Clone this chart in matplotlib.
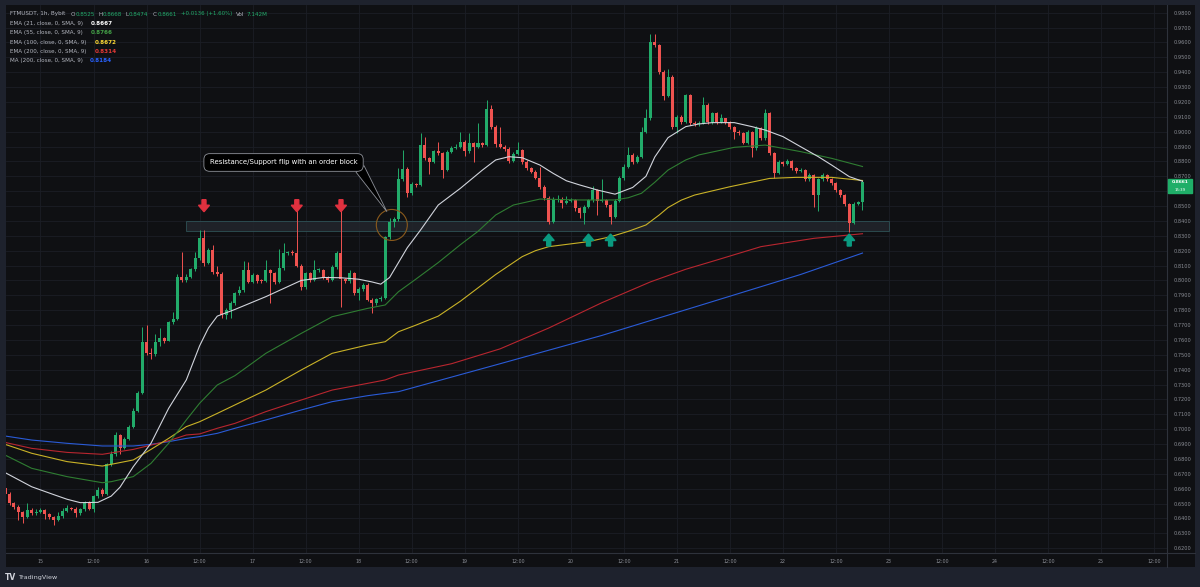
import matplotlib
matplotlib.use('Agg')
import matplotlib.pyplot as plt
from matplotlib.patches import Rectangle, Ellipse, Polygon
from matplotlib.lines import Line2D

## FTMUSDT 1h candles, hour 0 = 15th 00:00
first_hour = -8
first_open = 0.6602
closes = [0.6564, 0.6503, 0.6475, 0.6440, 0.6410, 0.6457, 0.6434, 0.6445,
          0.6457, 0.6429, 0.6407, 0.6389, 0.6416, 0.6450, 0.6472, 0.6466, 0.6434, 0.6460,
          0.6508, 0.6466, 0.6549, 0.6594, 0.6564, 0.6764, 0.6831, 0.6961, 0.6876, 0.6934,
          0.7017, 0.7125, 0.7241, 0.7588, 0.7514, 0.7506, 0.7588, 0.7611, 0.7595, 0.7718,
          0.7741, 0.8025, 0.8000, 0.8025, 0.8075, 0.8148, 0.8283, 0.8119, 0.8205, 0.8059,
          0.8045, 0.7768, 0.7801, 0.7846, 0.7913, 0.7936, 0.8070, 0.7992, 0.8037, 0.7999,
          0.7996, 0.8070, 0.8048, 0.7992, 0.8081, 0.8182, 0.8190, 0.8186, 0.8097, 0.7958,
          0.8048, 0.8003, 0.8070, 0.8072, 0.8021, 0.8003, 0.8092, 0.8182, 0.8008, 0.7995,
          0.8048, 0.7913, 0.7940, 0.7969, 0.7870, 0.7846, 0.7872, 0.7884, 0.8294, 0.8395,
          0.8412, 0.8682, 0.8749, 0.8586, 0.8647, 0.8642, 0.8911, 0.8825, 0.8798, 0.8870,
          0.8854, 0.8743, 0.8866, 0.8893, 0.8900, 0.8933, 0.8870, 0.8922, 0.8900, 0.8922,
          0.8911, 0.9150, 0.9034, 0.8915, 0.8900, 0.8884, 0.8803, 0.8852, 0.8877, 0.8798,
          0.8758, 0.8731, 0.8691, 0.8630, 0.8556, 0.8395, 0.8541, 0.8545, 0.8523, 0.8534,
          0.8543, 0.8485, 0.8451, 0.8496, 0.8541, 0.8608, 0.8534, 0.8541, 0.8507, 0.8429,
          0.8534, 0.8686, 0.8765, 0.8843, 0.8798, 0.8832, 0.9000, 0.9090, 0.9605, 0.9583,
          0.9404, 0.9240, 0.9370, 0.9034, 0.9101, 0.9067, 0.9247, 0.9056, 0.9050, 0.9060,
          0.9180, 0.9067, 0.9124, 0.9067, 0.9090, 0.9067, 0.9034, 0.9000, 0.8989, 0.8926,
          0.9000, 0.8888, 0.9023, 0.8955, 0.9124, 0.8859, 0.8725, 0.8798, 0.8783, 0.8805,
          0.8754, 0.8738, 0.8745, 0.8680, 0.8709, 0.8574, 0.8680, 0.8709, 0.8680, 0.8653,
          0.8608, 0.8574, 0.8514, 0.8388, 0.8514, 0.8525, 0.8661]
highs = [0.6615, 0.6580, 0.6512, 0.6490, 0.6452, 0.6505, 0.6470, 0.6462,
         0.6470, 0.6466, 0.6438, 0.6415, 0.6440, 0.6470, 0.6490, 0.6480, 0.6475, 0.6470,
         0.6515, 0.6520, 0.6560, 0.6612, 0.6605, 0.6770, 0.6855, 0.6982, 0.6970, 0.6945,
         0.7025, 0.7140, 0.7255, 0.7686, 0.7700, 0.7545, 0.7640, 0.7680, 0.7620, 0.7730,
         0.7790, 0.8040, 0.8193, 0.8040, 0.8085, 0.8190, 0.8339, 0.8339, 0.8215, 0.8235,
         0.8095, 0.8055, 0.7815, 0.7860, 0.7925, 0.7960, 0.8133, 0.8122, 0.8050, 0.8045,
         0.8010, 0.8140, 0.8080, 0.8060, 0.8212, 0.8250, 0.8200, 0.8205, 0.8474, 0.8110,
         0.8060, 0.8055, 0.8140, 0.8085, 0.8080, 0.8030, 0.8105, 0.8195, 0.8474, 0.8015,
         0.8070, 0.8060, 0.7955, 0.7980, 0.7985, 0.7880, 0.7885, 0.7895, 0.8300, 0.8420,
         0.8425, 0.8754, 0.8877, 0.8760, 0.8660, 0.8655, 0.8992, 0.8966, 0.8830, 0.8880,
         0.8932, 0.8865, 0.8875, 0.8905, 0.8915, 0.9000, 0.8945, 0.8990, 0.8930, 0.9060,
         0.8930, 0.9210, 0.9180, 0.9045, 0.9030, 0.8910, 0.8895, 0.8865, 0.8930, 0.8885,
         0.8810, 0.8765, 0.8740, 0.8760, 0.8640, 0.8565, 0.8560, 0.8575, 0.8560, 0.8570,
         0.8555, 0.8550, 0.8495, 0.8505, 0.8550, 0.8632, 0.8615, 0.8680, 0.8550, 0.8515,
         0.8545, 0.8700, 0.8780, 0.8900, 0.8855, 0.8845, 0.9030, 0.9150, 0.9657, 0.9660,
         0.9590, 0.9415, 0.9420, 0.9380, 0.9115, 0.9110, 0.9255, 0.9255, 0.9070, 0.9070,
         0.9230, 0.9195, 0.9135, 0.9130, 0.9120, 0.9095, 0.9075, 0.9040, 0.9010, 0.8995,
         0.9010, 0.9005, 0.9035, 0.9030, 0.9150, 0.9130, 0.8865, 0.8810, 0.8805, 0.8815,
         0.8810, 0.8765, 0.8755, 0.8750, 0.8720, 0.8715, 0.8690, 0.8720, 0.8715, 0.8690,
         0.8660, 0.8615, 0.8580, 0.8520, 0.8525, 0.8535, 0.8668]
lows = [0.6550, 0.6490, 0.6462, 0.6389, 0.6372, 0.6400, 0.6420, 0.6425,
        0.6436, 0.6394, 0.6395, 0.6356, 0.6380, 0.6405, 0.6442, 0.6455, 0.6410, 0.6425,
        0.6450, 0.6455, 0.6440, 0.6540, 0.6552, 0.6555, 0.6755, 0.6820, 0.6830, 0.6870,
        0.6925, 0.7010, 0.7115, 0.7235, 0.7500, 0.7470, 0.7495, 0.7560, 0.7580, 0.7590,
        0.7710, 0.7735, 0.7990, 0.7992, 0.8015, 0.8065, 0.8140, 0.8100, 0.8110, 0.8040,
        0.8030, 0.7750, 0.7740, 0.7750, 0.7835, 0.7900, 0.7925, 0.7980, 0.7985, 0.7985,
        0.7980, 0.7990, 0.7850, 0.7975, 0.7985, 0.8070, 0.8170, 0.8170, 0.8090, 0.7936,
        0.7945, 0.7990, 0.7995, 0.8055, 0.8010, 0.7990, 0.7995, 0.8080, 0.7824, 0.7985,
        0.7985, 0.7900, 0.7869, 0.7930, 0.7860, 0.7783, 0.7835, 0.7862, 0.7878, 0.8280,
        0.8360, 0.8400, 0.8670, 0.8560, 0.8575, 0.8630, 0.8635, 0.8810, 0.8713, 0.8790,
        0.8840, 0.8686, 0.8735, 0.8855, 0.8885, 0.8890, 0.8838, 0.8860, 0.8798, 0.8890,
        0.8900, 0.8905, 0.9020, 0.8900, 0.8890, 0.8870, 0.8790, 0.8795, 0.8845, 0.8785,
        0.8745, 0.8720, 0.8680, 0.8615, 0.8540, 0.8380, 0.8388, 0.8530, 0.8490, 0.8515,
        0.8525, 0.8470, 0.8420, 0.8380, 0.8485, 0.8530, 0.8440, 0.8525, 0.8495, 0.8380,
        0.8420, 0.8525, 0.8675, 0.8755, 0.8785, 0.8790, 0.8825, 0.8990, 0.9080, 0.9570,
        0.9390, 0.9210, 0.9230, 0.9020, 0.8990, 0.9050, 0.9060, 0.9045, 0.9040, 0.9040,
        0.9050, 0.9055, 0.9055, 0.9055, 0.9060, 0.9055, 0.9020, 0.8950, 0.8975, 0.8915,
        0.8915, 0.8832, 0.8880, 0.8945, 0.8945, 0.8845, 0.8690, 0.8715, 0.8770, 0.8775,
        0.8745, 0.8725, 0.8730, 0.8670, 0.8670, 0.8496, 0.8469, 0.8670, 0.8670, 0.8640,
        0.8595, 0.8560, 0.8500, 0.8325, 0.8380, 0.8505, 0.8474]
opens = [first_open] + closes[:-1]
hours = list(range(first_hour, first_hour + len(closes)))

## moving averages (hour, value)
ema21_t = [-8, -2, 3, 6, 9, 13, 16, 18, 21, 25, 29, 33, 36, 38, 40, 44, 51, 59, 64, 68, 72, 75, 77, 79,
           81, 83, 86, 90, 95, 100, 103, 106, 109, 113, 116, 119, 122, 126, 130, 134, 137, 139, 142,
           146, 149, 152, 157, 161, 164, 168, 172, 176, 179, 183, 186]
ema21_v = [0.6708, 0.6613, 0.6560, 0.6529, 0.6506, 0.6508, 0.6550, 0.6610, 0.6748, 0.6905, 0.7140,
           0.7331, 0.7560, 0.7680, 0.7760, 0.7805, 0.7891, 0.8000, 0.8020, 0.8018, 0.8008, 0.7990,
           0.7975, 0.8020, 0.8120, 0.8220, 0.8339, 0.8507, 0.8619, 0.8742, 0.8810, 0.8832, 0.8825,
           0.8776, 0.8720, 0.8670, 0.8642, 0.8608, 0.8580, 0.8625, 0.8700, 0.8830, 0.8960, 0.9034,
           0.9052, 0.9061, 0.9061, 0.9034, 0.9011, 0.8967, 0.8899, 0.8832, 0.8776, 0.8698, 0.8667]
ema55_t = [-8, -2, 6, 14, 16, 21, 25, 29, 33, 36, 40, 44, 51, 59, 66, 74, 78, 81, 85, 90, 95, 99, 103,
           107, 113, 122, 130, 133, 136, 139, 142, 146, 149, 157, 164, 172, 179, 186]
ema55_v = [0.6826, 0.6737, 0.6681, 0.6640, 0.6647, 0.6681, 0.6770, 0.6905, 0.7062, 0.7174, 0.7297,
           0.7360, 0.7510, 0.7644, 0.7756, 0.7812, 0.7835, 0.7924, 0.8010, 0.8120, 0.8240, 0.8330,
           0.8440, 0.8507, 0.8547, 0.8541, 0.8541, 0.8556, 0.8586, 0.8660, 0.8742, 0.8810, 0.8844,
           0.8895, 0.8910, 0.8866, 0.8821, 0.8766]
ema100_t = [-8, -2, 6, 14, 21, 25, 29, 33, 36, 40, 44, 51, 59, 66, 74, 78, 81, 85, 90, 95, 99, 103, 106,
            109, 112, 115, 124, 129, 133, 137, 140, 142, 145, 148, 156, 165, 171, 179, 186]
ema100_v = [0.6898, 0.6838, 0.6782, 0.6752, 0.6793, 0.6864, 0.6938, 0.7017, 0.7050, 0.7106, 0.7163,
            0.7263, 0.7398, 0.7510, 0.7566, 0.7588, 0.7655, 0.7700, 0.7760, 0.7860, 0.7950, 0.8040,
            0.8100, 0.8160, 0.8200, 0.8227, 0.8261, 0.8294, 0.8330, 0.8373, 0.8440, 0.8490, 0.8540,
            0.8574, 0.8630, 0.8686, 0.8693, 0.8693, 0.8672]
ema200_t = [-8, -2, 6, 14, 21, 25, 29, 33, 36, 40, 44, 51, 59, 66, 74, 78, 81, 93, 104, 115, 127, 138,
            146, 153, 163, 175, 186]
ema200_v = [0.6911, 0.6871, 0.6844, 0.6831, 0.6864, 0.6893, 0.6922, 0.6961, 0.6968, 0.7006, 0.7039,
            0.7118, 0.7196, 0.7263, 0.7308, 0.7331, 0.7364, 0.7440, 0.7540, 0.7680, 0.7850, 0.7990,
            0.8075, 0.8137, 0.8227, 0.8283, 0.8314]
ma200_t = [-8, -2, 6, 14, 21, 25, 29, 33, 36, 40, 44, 51, 59, 66, 74, 78, 81, 104, 127, 149, 172, 186]
ma200_v = [0.6954, 0.6927, 0.6905, 0.6887, 0.6887, 0.6898, 0.6916, 0.6938, 0.6950, 0.6972, 0.7006,
           0.7062, 0.7129, 0.7185, 0.7225, 0.7241, 0.7252, 0.7440, 0.7630, 0.7830, 0.8040, 0.8184]

## annotations (hour / price)
zone_start, zone_end = 33, 192
zone_low, zone_high = 0.8333, 0.8400
down_arrows = [37, 58, 68]
up_arrows = [115, 124, 129, 183]

time_ticks = list(range(0, 253, 12))
time_labels = ['15', '12:00', '16', '12:00', '17', '12:00', '18', '12:00', '19', '12:00', '20', '12:00',
               '21', '12:00', '22', '12:00', '23', '12:00', '24', '12:00', '25', '12:00']
price_ticks = [round(0.62 + 0.01 * k, 2) for k in range(37)]
hidden_price_label = 0.86  # sits under the last-price tag

BG = '#0f1013'
FRAME = '#1e222d'
GRID = '#1b1e25'
AXTXT = '#8b8e96'
UP = '#22ab6a'
DOWN = '#ef5350'

W, H = 1200, 587
fig = plt.figure(figsize=(12, 5.87), dpi=100, facecolor=FRAME)


def fx(x):
    return x / W


def fy(y):
    return 1 - y / H


# dark chart panel (plot + price scale + time scale)
bg = fig.add_axes([fx(6), fy(567), fx(1189), 562 / H], facecolor=BG, zorder=-5)
bg.set_axis_off()
bg.add_patch(Rectangle((0, 0), 1, 1, transform=bg.transAxes, color=BG))

ax = fig.add_axes([fx(6), fy(553), fx(1161), 548 / H], facecolor=BG, zorder=1)
x0, x1 = -7.8, 254.9
y0, y1 = 0.61675, 0.98518
ax.set_xlim(x0, x1)
ax.set_ylim(y0, y1)
hpp = (x1 - x0) / 1161  # hours per pixel
ppp = (y1 - y0) / 548   # price per pixel

for s in ax.spines.values():
    s.set_visible(False)
ax.yaxis.tick_right()
ax.set_yticks(price_ticks)
ax.set_yticklabels(['' if p == hidden_price_label else '{:.4f}'.format(p) for p in price_ticks])
ax.set_xticks(time_ticks)
ax.set_xticklabels(time_labels)
ax.tick_params(axis='y', length=0, pad=5, labelsize=3.6, labelcolor=AXTXT)
ax.tick_params(axis='x', length=0, pad=4.5, labelsize=3.4, labelcolor=AXTXT)
ax.grid(color=GRID, linewidth=0.6)
ax.set_axisbelow(True)

# zone
ax.add_patch(Rectangle((zone_start, zone_low), zone_end - zone_start, zone_high - zone_low,
                       facecolor='#22262c', edgecolor='#2f5257', linewidth=0.7, alpha=0.85, zorder=1))

# candles
colors = [UP if c >= o else DOWN for o, c in zip(opens, closes)]
ax.vlines(hours, lows, highs, colors=colors, linewidth=0.7, zorder=3)
bottoms = [min(o, c) for o, c in zip(opens, closes)]
heights = [max(abs(c - o), 0.0006) for o, c in zip(opens, closes)]
ax.bar(hours, heights, bottom=bottoms, width=0.68, color=colors, linewidth=0, zorder=3)

# moving averages
ax.plot(ma200_t, ma200_v, color='#2a5bd7', linewidth=0.8, zorder=4)
ax.plot(ema200_t, ema200_v, color='#b8262f', linewidth=0.8, zorder=4)
ax.plot(ema100_t, ema100_v, color='#c9b227', linewidth=0.8, zorder=4)
ax.plot(ema55_t, ema55_v, color='#2f7d32', linewidth=0.8, zorder=4)
ax.plot(ema21_t, ema21_v, color='#d1d4dc', linewidth=0.8, zorder=4)

# arrows
arrow_shape = [(0, 0), (-5.5, 6.5), (-2, 6.5), (-2, 12), (2, 12), (2, 6.5), (5.5, 6.5)]
for h in down_arrows:
    pts = [(h + dx * hpp, 0.8462 + dy * ppp) for dx, dy in arrow_shape]
    ax.add_patch(Polygon(pts, closed=True, color='#e0313f', zorder=5))
for h in up_arrows:
    pts = [(h + dx * hpp, 0.8312 - dy * ppp) for dx, dy in arrow_shape]
    ax.add_patch(Polygon(pts, closed=True, color='#0a9a80', zorder=5))

# circle + callout
ax.add_patch(Ellipse((79.5, 0.8373), 31 * hpp, 31 * ppp, fill=False, edgecolor='#8a5a1c',
                     linewidth=0.8, zorder=6))
ax.add_patch(Polygon([(71.4, 0.8728), (73.2, 0.8772), (78.4, 0.8462)], closed=True,
                     facecolor='#000000', edgecolor='#8d9098', linewidth=0.6, zorder=7))
ax.text(55.0, 0.8793, 'Resistance/Support flip with an order block', color='white', fontsize=4.95,
        ha='center', va='center', zorder=8,
        bbox=dict(boxstyle='round,pad=0.85', facecolor='#000000', edgecolor='#8d9098', linewidth=0.6))

# axis borders
fig.add_artist(Line2D([fx(1167), fx(1167)], [fy(5), fy(567)], color='#2e323b', linewidth=0.8, zorder=10))
fig.add_artist(Line2D([fx(6), fx(1195)], [fy(553), fy(553)], color='#2e323b', linewidth=0.8, zorder=10))

# last price label
fig.add_artist(Rectangle((fx(1168), fy(193)), fx(24), 14 / H, transform=fig.transFigure,
                         color='#1fae68', zorder=10))
fig.text(fx(1180), fy(182.4), '0.8661', color='white', fontsize=3.2, ha='center', va='center',
         fontweight='bold', zorder=11)
fig.text(fx(1180), fy(190.0), '15:39', color='white', fontsize=2.8, ha='center', va='center', zorder=11)

# legend
LG = '#b2b5be'
GR = '#22ab6a'
fs = 4.1
row1 = [(10, 'FTMUSDT, 1h, Bybit', LG), (71, 'O', LG), (75.5, '0.8525', GR), (98.3, 'H', LG),
        (103, '0.8668', GR), (126, 'L', LG), (128.7, '0.8474', GR), (152.7, 'C', LG),
        (157.3, '0.8661', GR), (180.7, '+0.0136 (+1.60%)', GR), (235.5, 'Vol', LG), (246.5, '7.142M', GR)]
for x, t, c in row1:
    fig.text(fx(x), fy(14), t, color=c, fontsize=fs if t[0] != '+' else 3.85, va='center', zorder=11)
rows = [('EMA (21, close, 0, SMA, 9)', '0.8667', '#ffffff', 90.7),
        ('EMA (55, close, 0, SMA, 9)', '0.8766', '#43a047', 90.7),
        ('EMA (100, close, 0, SMA, 9)', '0.8672', '#fdd835', 94.3),
        ('EMA (200, close, 0, SMA, 9)', '0.8314', '#e53935', 94.3),
        ('MA (200, close, 0, SMA, 9)', '0.8184', '#2962ff', 90.0)]
for k, (name, val, c, vx) in enumerate(rows):
    y = 23.3 + 9.4 * k
    fig.text(fx(10), fy(y), name, color=LG, fontsize=fs, va='center', zorder=11)
    fig.text(fx(vx), fy(y), val, color=c, fontsize=fs, va='center', fontweight='bold', zorder=11)

# footer
fig.text(fx(5), fy(578), 'TV', color='#d1d4dc', fontsize=5.5, va='center', fontweight='bold')
fig.text(fx(18), fy(578), 'TradingView', color='#d1d4dc', fontsize=4.6, va='center')

fig.savefig('out.png', dpi=100, facecolor=FRAME)
